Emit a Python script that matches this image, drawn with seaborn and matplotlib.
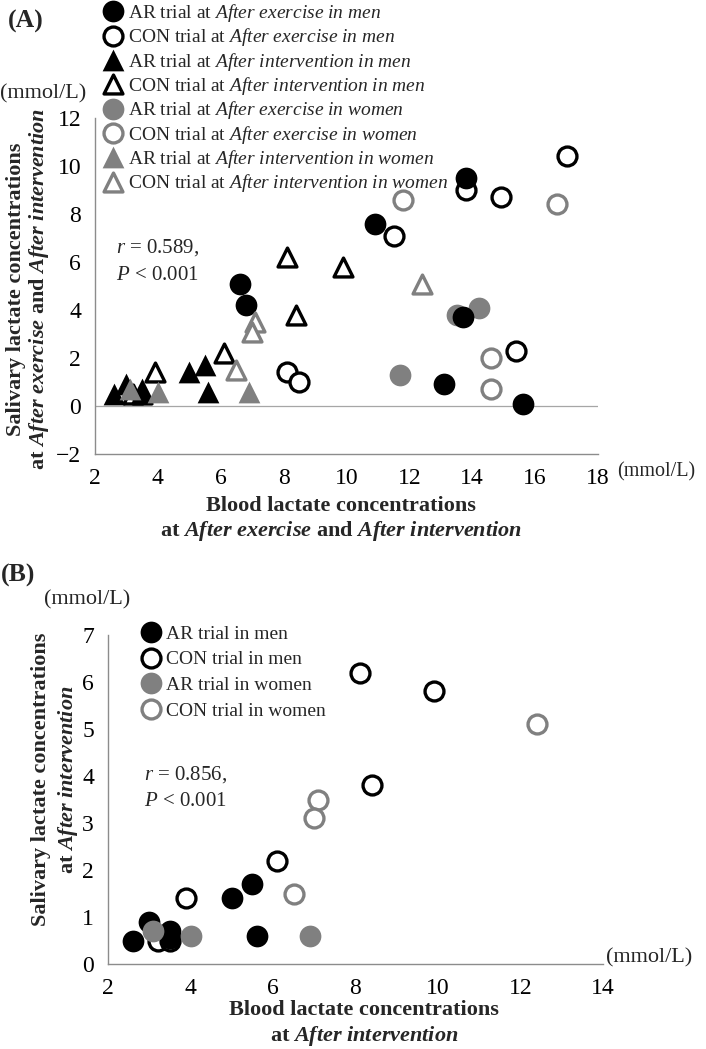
import matplotlib
matplotlib.use("Agg")
from matplotlib import pyplot as plt
import seaborn as sns

# Panel A, "After exercise" (circles)
ar_ex_men_blood = [13.8, 10.9, 6.6, 6.8, 13.7, 13.1, 15.6]
ar_ex_men_saliva = [9.5, 7.6, 5.1, 4.2, 3.7, 0.9, 0.1]
con_ex_men_blood = [17.0, 13.8, 14.9, 11.5, 8.1, 8.5, 15.4]
con_ex_men_saliva = [10.4, 9.0, 8.7, 7.1, 1.4, 1.0, 2.3]
ar_ex_women_blood = [13.5, 14.2, 11.7]
ar_ex_women_saliva = [3.8, 4.1, 1.3]
con_ex_women_blood = [11.8, 16.7, 14.6, 14.6]
con_ex_women_saliva = [8.6, 8.4, 2.0, 0.7]

# "After intervention" (triangles in A, circles in B)
ar_int_men_blood = [2.6, 3.0, 3.5, 3.5, 5.0, 5.5, 5.6]
ar_int_men_saliva = [0.5, 0.9, 0.7, 0.55, 1.4, 1.7, 0.6]
con_int_men_blood = [8.1, 9.9, 8.4, 6.1, 3.9, 3.2, 3.5]
con_int_men_saliva = [6.2, 5.8, 3.8, 2.2, 1.4, 0.5, 0.5]
ar_int_women_blood = [3.1, 4.0, 6.9]
ar_int_women_saliva = [0.7, 0.6, 0.6]
con_int_women_blood = [12.4, 7.1, 7.0, 6.5]
con_int_women_saliva = [5.1, 3.5, 3.1, 1.5]

ticks_a_x = [2, 4, 6, 8, 10, 12, 14, 16, 18]
ticks_a_y = [-2, 0, 2, 4, 6, 8, 10, 12]
ticks_b_x = [2, 4, 6, 8, 10, 12, 14]
ticks_b_y = [0, 1, 2, 3, 4, 5, 6, 7]

BLACK = "black"
GRAY = "#808080"
SPINE = "#8c8c8c"


def it(s):
    return r"$\mathit{" + s.replace(" ", r"\ ") + "}$"


def bit(s):
    return r"$\mathbfit{" + s.replace(" ", r"\ ") + "}$"


sns.set_style("white")
plt.rcParams["font.family"] = ["Liberation Serif", "DejaVu Serif"]
plt.rcParams["mathtext.fontset"] = "custom"
plt.rcParams["mathtext.rm"] = "Liberation Serif"
plt.rcParams["mathtext.it"] = "Liberation Serif:italic"
plt.rcParams["mathtext.bf"] = "Liberation Serif:bold"
plt.rcParams["mathtext.bfit"] = "Liberation Serif:italic:bold"

W, H = 706, 1049
fig = plt.figure(figsize=(W / 100, H / 100), dpi=100)


def fx(px):
    return px / W


def fy(py):
    return 1 - py / H


ax_a = fig.add_axes([fx(95), fy(454), (598 - 95) / W, (454 - 118) / H])
ax_b = fig.add_axes([fx(108), fy(964), (603 - 108) / W, (964 - 635) / H])

S_FILL = 245
S_OPEN = 185
LW_OPEN = 2.4


def draw(ax, x, y, marker, color, filled, label, z):
    if filled:
        sns.scatterplot(x=x, y=y, ax=ax, marker=marker, s=S_FILL, color=color,
                        edgecolor=color, linewidth=0, label=label, zorder=z,
                        legend=False, clip_on=False)
    else:
        sns.scatterplot(x=x, y=y, ax=ax, marker=marker, s=S_OPEN, color=color,
                        facecolor="white", edgecolor=color, linewidth=LW_OPEN,
                        label=label, zorder=z, legend=False, clip_on=False)
    return ax.collections[-1]


# ---- panel A ----
ax_a.axhline(0, color="#a6a6a6", lw=0.9, zorder=1)
h = {}
h["con_ex_w"] = draw(ax_a, con_ex_women_blood, con_ex_women_saliva, "o", GRAY, False,
                     "CON trial at " + it("After exercise in women"), 2)
h["con_ex_m"] = draw(ax_a, con_ex_men_blood, con_ex_men_saliva, "o", BLACK, False,
                     "CON trial at " + it("After exercise in men"), 2)
h["ar_ex_w"] = draw(ax_a, ar_ex_women_blood, ar_ex_women_saliva, "o", GRAY, True,
                    "AR trial at " + it("After exercise in women"), 3)
h["ar_ex_m"] = draw(ax_a, ar_ex_men_blood, ar_ex_men_saliva, "o", BLACK, True,
                    "AR trial at " + it("After exercise in men"), 4)
h["con_int_m"] = draw(ax_a, con_int_men_blood, con_int_men_saliva, "^", BLACK, False,
                      "CON trial at " + it("After intervention in men"), 5)
h["con_int_w"] = draw(ax_a, con_int_women_blood, con_int_women_saliva, "^", GRAY, False,
                      "CON trial at " + it("After intervention in women"), 5)
h["ar_int_m"] = draw(ax_a, ar_int_men_blood, ar_int_men_saliva, "^", BLACK, True,
                     "AR trial at " + it("After intervention in men"), 6)
h["ar_int_w"] = draw(ax_a, ar_int_women_blood, ar_int_women_saliva, "^", GRAY, True,
                     "AR trial at " + it("After intervention in women"), 7)

order_a = ["ar_ex_m", "con_ex_m", "ar_int_m", "con_int_m",
           "ar_ex_w", "con_ex_w", "ar_int_w", "con_int_w"]
handles_a = [h[k] for k in order_a]
ax_a.legend(handles=handles_a, labels=[x.get_label() for x in handles_a],
            loc="upper left", bbox_to_anchor=(fx(103), fy(2)),
            bbox_transform=fig.transFigure, frameon=False, fontsize=14,
            handlelength=1.0, handletextpad=0.3, labelspacing=0.12,
            borderpad=0, borderaxespad=0, scatteryoffsets=[0.5])

# ---- panel B ----
hb = {}
hb["con_m"] = draw(ax_b, con_int_men_blood, con_int_men_saliva, "o", BLACK, False,
                   "CON trial in men", 2)
hb["con_w"] = draw(ax_b, con_int_women_blood, con_int_women_saliva, "o", GRAY, False,
                   "CON trial in women", 2)
hb["ar_m"] = draw(ax_b, ar_int_men_blood, ar_int_men_saliva, "o", BLACK, True,
                  "AR trial in men", 3)
hb["ar_w"] = draw(ax_b, ar_int_women_blood, ar_int_women_saliva, "o", GRAY, True,
                  "AR trial in women", 4)
handles_b = [hb[k] for k in ["ar_m", "con_m", "ar_w", "con_w"]]
ax_b.legend(handles=handles_b, labels=[x.get_label() for x in handles_b],
            loc="upper left", bbox_to_anchor=(fx(141), fy(625)),
            bbox_transform=fig.transFigure, frameon=False, fontsize=14,
            handlelength=1.0, handletextpad=0.3, labelspacing=0.42,
            borderpad=0, borderaxespad=0, scatteryoffsets=[0.5])

# ---- axes styling ----
for ax, xt, yt in [(ax_a, ticks_a_x, ticks_a_y), (ax_b, ticks_b_x, ticks_b_y)]:
    ax.set_xlim(xt[0], xt[-1])
    ax.set_ylim(yt[0], yt[-1])
    ax.set_xticks(xt)
    ax.set_yticks(yt)
    for side in ["top", "right"]:
        ax.spines[side].set_visible(False)
    for side in ["left", "bottom"]:
        ax.spines[side].set_color(SPINE)
        ax.spines[side].set_linewidth(1.0)
    ax.tick_params(direction="out", length=6, width=1, color=SPINE,
                   labelcolor="black", labelsize=17, pad=4)
    ax.set_facecolor("none")

ax_a.set_ylabel("Salivary lactate concentrations\nat " + bit("After exercise")
                + " and " + bit("After intervention"),
                fontsize=16, fontweight="bold", ha="center", va="center", linespacing=1.1)
ax_a.yaxis.set_label_coords(-0.132, 0.49)
ax_a.set_xlabel("Blood lactate concentrations\nat " + bit("After exercise")
                + " and " + bit("After intervention"),
                fontsize=16, fontweight="bold", ha="center", va="center", linespacing=1.15)
ax_a.xaxis.set_label_coords(0.489, -0.195)

ax_b.set_ylabel("Salivary lactate concentrations\nat " + bit("After intervention"),
                fontsize=16, fontweight="bold", ha="center", va="center", linespacing=1.25)
ax_b.yaxis.set_label_coords(-0.106, 0.56)
ax_b.set_xlabel("Blood lactate concentrations\nat " + bit("After intervention"),
                fontsize=16, fontweight="bold", ha="center", va="center", linespacing=1.2)
ax_b.xaxis.set_label_coords(0.517, -0.182)

# correlation text
fig.text(fx(116), fy(248), it("r") + " = 0.589,", fontsize=15, va="center")
fig.text(fx(116), fy(276), it("P") + " < 0.001", fontsize=15, va="center")
fig.text(fx(144), fy(775), it("r") + " = 0.856,", fontsize=15, va="center")
fig.text(fx(144), fy(801), it("P") + " < 0.001", fontsize=15, va="center")

# units and panel letters
fig.text(fx(0), fy(94), "(mmol/L)", fontsize=16, va="center")
fig.text(fx(617), fy(472), "(mmol/L)", fontsize=14.5, va="center")
fig.text(fx(44), fy(600), "(mmol/L)", fontsize=16, va="center")
fig.text(fx(606), fy(958), "(mmol/L)", fontsize=16, va="center")
fig.text(fx(8), fy(21), "(A)", fontsize=18.5, fontweight="bold", va="center")
fig.text(fx(1), fy(575), "(B)", fontsize=18.5, fontweight="bold", va="center")

fig.savefig("out.png", dpi=100)
